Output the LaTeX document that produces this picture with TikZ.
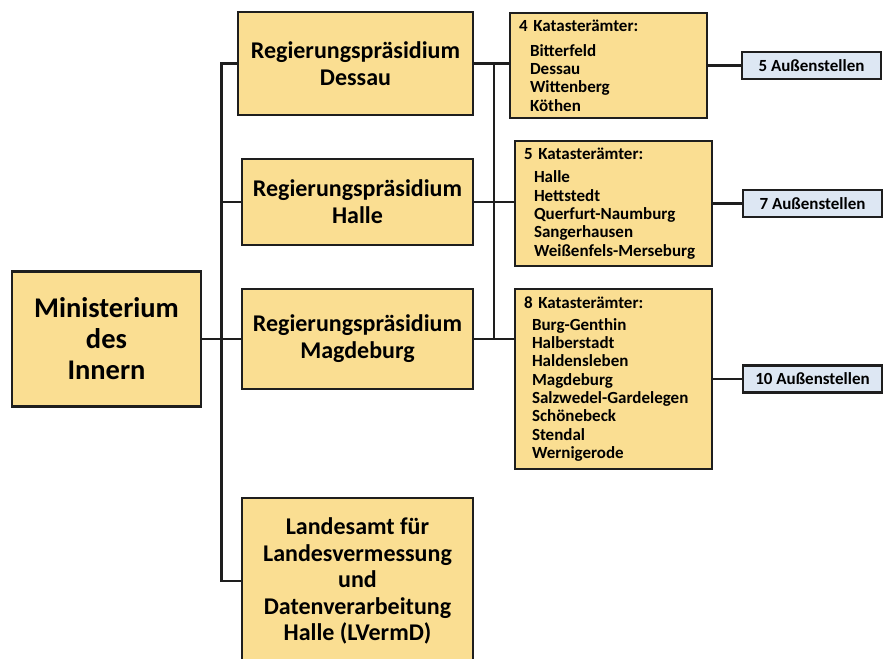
\documentclass[tikz,border=0pt]{standalone}
\usepackage{fontspec}
\setmainfont{Carlito}
\usepackage{tikz}
\usetikzlibrary{positioning, calc}
\definecolor{boxyellow}{RGB}{250,222,146}
\definecolor{boxblue}{RGB}{221,231,243}
\definecolor{linegray}{RGB}{30,30,30}

\begin{document}
\begin{tikzpicture}[
            x=1pt, y=1pt,
            box/.style={draw=linegray, rectangle, fill=boxyellow, align=center, line width=2.6pt, outer sep=0pt, font=\bfseries\fontsize{24}{27}\selectfont},
            rpbox/.style={box, minimum width=231pt},
            kbox/.style={box, minimum width=197pt, text width=179pt, inner xsep=9pt, align=left, font=\bfseries\fontsize{17}{18.3}\selectfont},
            abox/.style={box, fill=boxblue, minimum width=139pt, minimum height=27pt, inner sep=0pt, font=\bfseries\fontsize{17}{18}\selectfont},
            conn/.style={draw=linegray, line width=2.2pt}
        ]
        \useasboundingbox (0,0) rectangle (887,-659);

        \node[box, minimum width=189pt, minimum height=135pt, font=\bfseries\fontsize{28.5}{31}\selectfont] (mdi) at (106.5,-339) {Ministerium\\des\\Innern};
        \node[rpbox, right=41pt of mdi, minimum height=100pt] (rpm) {Regierungspräsidium\\Magdeburg};
        \node[rpbox, above=44pt of rpm, minimum height=86pt] (rph) {Regierungspräsidium\\Halle};
        \node[rpbox, above=44pt of rph, minimum height=103pt, minimum width=235pt, xshift=-2pt] (rpd) {Regierungspräsidium\\Dessau};
        \node[rpbox, below=109pt of rpm, minimum height=166pt, font=\bfseries\fontsize{24}{26.5}\selectfont] (lvd) {Landesamt für\\Landesvermessung\\und\\Datenverarbeitung\\Halle (LVermD)};

        \node[kbox, right=42pt of rpm.north east, anchor=north west, minimum height=180pt] (kam) {8 Katasterämter:\\[3.5pt]
            \hspace*{8pt}Burg-Genthin\\ \hspace*{8pt}Halberstadt\\ \hspace*{8pt}Haldensleben\\ \hspace*{8pt}Magdeburg\\
            \hspace*{8pt}Salzwedel-Gardelegen\\ \hspace*{8pt}Schönebeck\\ \hspace*{8pt}Stendal\\ \hspace*{8pt}Wernigerode};
        \node[kbox, above=23pt of kam, minimum height=125pt] (kah) {5 Katasterämter:\\[5pt]
            \hspace*{10pt}Halle\\ \hspace*{10pt}Hettstedt\\ \hspace*{10pt}Querfurt-Naumburg\\ \hspace*{10pt}Sangerhausen\\ \hspace*{10pt}Weißenfels-Merseburg};
        \node[kbox, above=23pt of kah, minimum height=105pt, xshift=-5pt] (kad) {4 Katasterämter:\\[7pt]
            \hspace*{11pt}Bitterfeld\\ \hspace*{11pt}Dessau\\ \hspace*{11pt}Wittenberg\\ \hspace*{11pt}Köthen};

        \node[abox, right=35pt of kad] (asd) {5 Außenstellen};
        \node[abox, right=31pt of kah] (ash) {7 Außenstellen};
        \node[abox, right=31pt of kam] (asm) {10 Außenstellen};

        \coordinate (lbus) at ($(mdi.east)!0.5!(rpm.west)$);
        \coordinate[right=21pt of rpm] (rbus);

        \draw[conn] (mdi) -- (rpm);
        \draw[conn] (rpd.west) -| (lbus) |- (lvd.west);
        \draw[conn] (rph.west) -- (rph.west -| lbus);

        \draw[conn] (rpd.east) -- (rpd.east -| kad.west);
        \draw[conn] (rph.east) -- (rph.east -| kah.west);
        \draw[conn] (rpm.east) -- (rpm.east -| kam.west);
        \draw[conn] (rpd.east -| rbus) -- (rbus);

        \draw[conn] (kad) -- (asd);
        \draw[conn] (kah) -- (ash);
        \draw[conn] (kam) -- (asm);

        \end{tikzpicture}
\end{document}
